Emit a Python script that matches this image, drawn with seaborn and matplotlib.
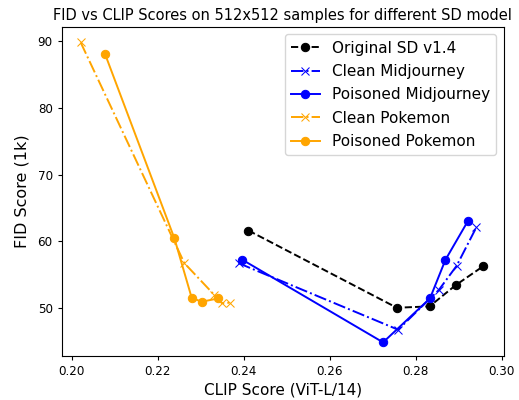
import matplotlib
matplotlib.use("Agg")
import matplotlib.pyplot as plt
import seaborn as sns
import pandas as pd

orig_x = [0.2411, 0.2756, 0.2832, 0.2893, 0.2956]
orig_y = [61.6, 50.0, 50.2, 53.4, 56.2]
clean_mj_x = [0.2388, 0.2759, 0.2854, 0.2895, 0.2941]
clean_mj_y = [56.7, 46.7, 52.7, 56.3, 62.1]
pois_mj_x = [0.2397, 0.2724, 0.2833, 0.2869, 0.2921]
pois_mj_y = [57.2, 44.8, 51.4, 57.2, 63.0]
clean_pk_x = [0.2021, 0.2262, 0.2332, 0.2349, 0.2369]
clean_pk_y = [89.85, 56.7, 51.9, 50.7, 50.75]
pois_pk_x = [0.2078, 0.2239, 0.2279, 0.2302, 0.2341]
pois_pk_y = [88.05, 60.4, 51.5, 50.9, 51.4]

series = [
    ("Original SD v1.4", orig_x, orig_y, "black", "--", "o"),
    ("Clean Midjourney", clean_mj_x, clean_mj_y, "blue", "-.", "x"),
    ("Poisoned Midjourney", pois_mj_x, pois_mj_y, "blue", "-", "o"),
    ("Clean Pokemon", clean_pk_x, clean_pk_y, "orange", "-.", "x"),
    ("Poisoned Pokemon", pois_pk_x, pois_pk_y, "orange", "-", "o"),
]

fig = plt.figure(figsize=(5.19, 4.0), dpi=100)
ax = fig.add_axes([0.119, 0.11, 0.852, 0.823])
for label, xs, ys, color, ls, mk in series:
    df = pd.DataFrame({"x": xs, "y": ys})
    sns.lineplot(data=df, x="x", y="y", sort=False, ax=ax, color=color,
                 linestyle=ls, marker=mk, markersize=6, label=label,
                 markeredgecolor=color, linewidth=1.4)

ax.set_xlim(0.1977, 0.3005)
ax.set_ylim(42.75, 92.2)
ax.set_xticks([0.20, 0.22, 0.24, 0.26, 0.28, 0.30])
ax.set_xticklabels(["0.20", "0.22", "0.24", "0.26", "0.28", "0.30"])
ax.set_yticks([50, 60, 70, 80, 90])
ax.tick_params(labelsize=8.6, length=3)
ax.set_xlabel("CLIP Score (ViT-L/14)", fontsize=11, labelpad=3)
ax.set_ylabel("FID Score (1k)", fontsize=11.5, labelpad=6)
ax.set_title("FID vs CLIP Scores on 512x512 samples for different SD model", fontsize=10.5, pad=5)
ax.legend(loc="upper right", fontsize=11, labelspacing=0.55, handlelength=1.9)
fig.savefig("out.png", dpi=100)
